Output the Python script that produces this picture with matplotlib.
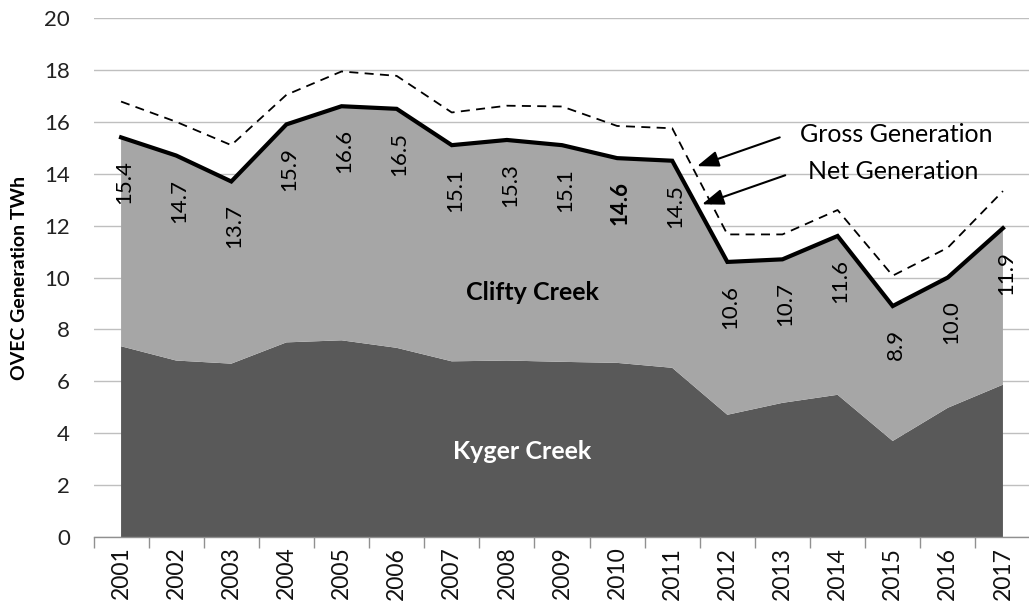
import matplotlib
matplotlib.use("Agg")
import matplotlib.pyplot as plt
import numpy as np

years = ["2001", "2002", "2003", "2004", "2005", "2006", "2007", "2008", "2009",
         "2010", "2011", "2012", "2013", "2014", "2015", "2016", "2017"]
net_generation = [15.4, 14.7, 13.7, 15.9, 16.6, 16.5, 15.1, 15.3, 15.1,
                  14.6, 14.5, 10.6, 10.7, 11.6, 8.9, 10.0, 11.9]
kyger_creek = [7.35, 6.8, 6.68, 7.5, 7.58, 7.29, 6.77, 6.8, 6.75,
               6.71, 6.52, 4.71, 5.17, 5.48, 3.7, 4.98, 5.87]
gross_generation = [16.78, 16.0, 15.1, 17.04, 17.94, 17.77, 16.36, 16.62, 16.59,
                    15.84, 15.75, 11.66, 11.66, 12.6, 10.07, 11.15, 13.33]
clifty_creek = [n - k for n, k in zip(net_generation, kyger_creek)]
net_labels = ["15.4", "14.7", "13.7", "15.9", "16.6", "16.5", "15.1", "15.3", "15.1",
              "14.6", "14.5", "10.6", "10.7", "11.6", "8.9", "10.0", "11.9"]
bold_label_year = "2010"

plt.rcParams['font.family'] = ['Lato', 'DejaVu Sans']

fig = plt.figure(figsize=(10.29, 6.05), dpi=100)
ax = fig.add_axes([93.5 / 1029, 68 / 605, 937 / 1029, 519 / 605])

x = np.arange(len(years))
ax.stackplot(x, kyger_creek, clifty_creek, colors=["#595959", "#a6a6a6"],
             linewidth=0, zorder=2)
ax.plot(x, net_generation, color="black", lw=3.0, zorder=4, solid_joinstyle="miter")
ax.plot(x, gross_generation, color="black", lw=1.3, ls=(0, (5, 3.5)), zorder=4)

ax.set_xlim(-0.5, len(years) - 0.5)
ax.set_ylim(0, 20)
ax.set_yticks(np.arange(0, 21, 2))
ax.yaxis.grid(True, color="#bfbfbf", lw=1.0, zorder=0)
ax.set_axisbelow(True)
ax.tick_params(axis="y", length=0, pad=17, labelsize=16, labelcolor="#222222")

ax.set_xticks(x)
ax.set_xticklabels(years, rotation=90, fontsize=16.5, color="#111111")
ax.set_xticks(np.arange(-0.5, len(years), 1), minor=True)
ax.tick_params(axis="x", which="major", length=0, pad=7)
ax.tick_params(axis="x", which="minor", length=8, color="#909090", width=1.0)

for s in ["top", "right", "left"]:
    ax.spines[s].set_visible(False)
ax.spines["bottom"].set_color("#909090")
ax.spines["bottom"].set_linewidth(1.0)
ax.spines["bottom"].set_zorder(5)

ax.set_ylabel("OVEC Generation TWh", fontsize=14, fontweight="bold")
ax.yaxis.set_label_coords(-0.0699, 0.5)

for xi, v, lab, yr in zip(x, net_generation, net_labels, years):
    ax.annotate(lab, (xi, v), xytext=(3, -23), textcoords="offset pixels",
                rotation=90, ha="center", va="top", fontsize=16,
                fontweight="bold" if yr == bold_label_year else "normal", zorder=6)

ax.text(7.46, 9.42, "Clifty Creek", fontsize=18, fontweight="bold", ha="center", va="center", zorder=6)
ax.text(7.28, 3.28, "Kyger Creek", fontsize=18, fontweight="bold", color="white",
        ha="center", va="center", zorder=6)

ax.text(14.06, 15.52, "Gross Generation", fontsize=18, ha="center", va="center", zorder=6)
ax.text(14.0, 14.09, "Net Generation", fontsize=18, ha="center", va="center", zorder=6)
arrow_style = dict(arrowstyle="-|>,head_length=0.6,head_width=0.22", color="black",
                   lw=1.5, mutation_scale=22, shrinkA=0, shrinkB=0)
ax.annotate("", xy=(10.45, 14.29), xytext=(11.95, 15.4), arrowprops=arrow_style, zorder=6)
ax.annotate("", xy=(10.54, 12.82), xytext=(12.05, 13.94), arrowprops=arrow_style, zorder=6)

fig.savefig("out.png", dpi=100)
